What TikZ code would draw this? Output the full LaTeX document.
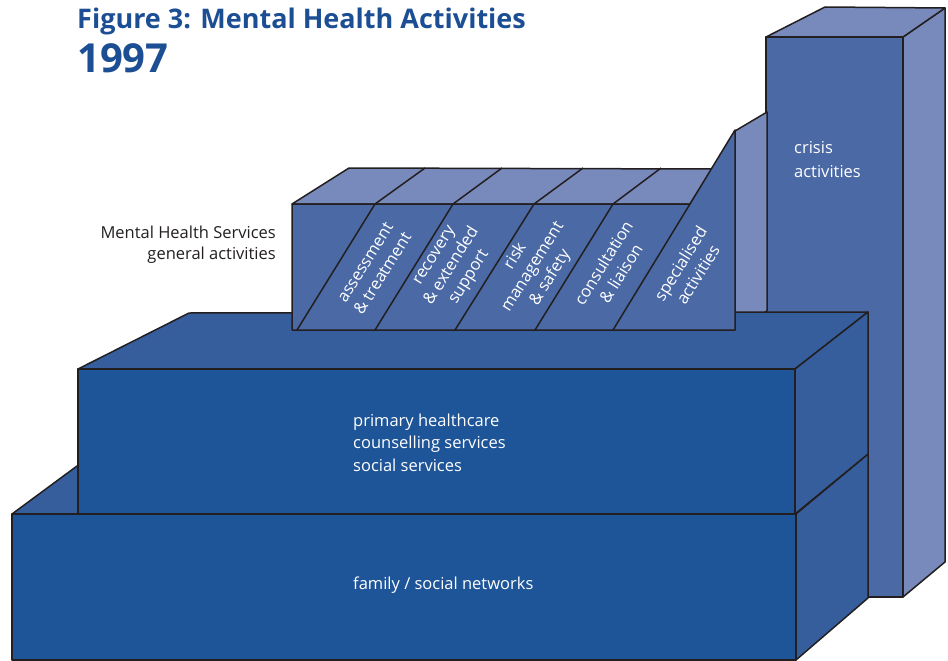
\documentclass[tikz,border=0pt]{standalone}
\usepackage{fontspec}
\setmainfont{Open Sans}
\definecolor{cfront}{RGB}{30,84,152}
\definecolor{cside}{RGB}{54,94,157}
\definecolor{cmid}{RGB}{74,105,165}
\definecolor{clight}{RGB}{120,137,188}
\definecolor{cedge}{RGB}{35,31,32}
\definecolor{ctitle}{RGB}{28,78,148}
\begin{document}
\begin{tikzpicture}[x=1pt,y=-1pt,
  face/.style={draw=cedge,line width=1.5pt,line join=round},
  dark/.style={face,fill=cfront},
  side/.style={face,fill=cside},
  mid/.style={face,fill=cmid},
  light/.style={face,fill=clight},
  divider/.style={draw=cedge,line width=1.5pt},
  wlabel/.style={text=white,inner sep=0pt,font=\fontsize{16.5}{20.5}\selectfont},
  slanted/.style={wlabel,align=center,rotate=58},
  glabel/.style={text=cedge,inner sep=0pt,font=\fontsize{16.5}{20.5}\selectfont},
  titlefont/.style={text=ctitle,inner sep=0pt}]
\useasboundingbox (0,0) rectangle (948,661);
% crisis column
\path[light] (903,37) -- (945,8) -- (945,562) -- (903,597) -- cycle;
\path[light] (766,37) -- (825,7) -- (945,8) -- (903,37) -- cycle;
\path[mid] (766,37) rectangle (903,597);
% specialised side face
\path[light] (735,330) -- (735,131) -- (767,112) -- (767,311) -- cycle;
% bottom block
\path[side] (12,514) -- (77,466) -- (868,454) -- (796,514) -- cycle;
\path[dark] (12,514) rectangle (796,660);
\path[side] (796,514) -- (868,454) -- (868,598) -- (796,660) -- cycle;
% middle block
\path[side] (78,369) -- (189,313) -- (868,312) -- (795,369) -- cycle;
\path[dark] (78,369) rectangle (795,514);
\path[side] (795,369) -- (868,312) -- (868,454) -- (795,514) -- cycle;
% general block
\path[light] (292,204) -- (349,168) -- (712,169) -- (690,204) -- cycle;
\path[mid] (292,330) -- (292,204) -- (690,204) -- (735,130) -- (735,330) -- cycle;
\draw[divider] (297,330) -- (375,204) -- (425,168);
\draw[divider] (375,330) -- (453,204) -- (502,168);
\draw[divider] (455,330) -- (534,204) -- (583,168);
\draw[divider] (535,330) -- (613,204) -- (661,168);
\draw[divider] (613,330) -- (690,204);
% labels
\node[slanted] (l1) at (374,268) {assessment\\\& treatment};
\node[slanted] (l2) at (453,267) {recovery\\\& extended\\support};
\node[slanted] (l3) at (533,267) {risk\\management\\\& safety};
\node[slanted] (l4) at (612,268) {consultation\\\& liaison};
\node[slanted] (l5) at (689,269) {specialised\\activities};
\node[wlabel,anchor=base west] (c1) at (794,153) {crisis};
\node[wlabel,anchor=base west] (c2) at (794,177) {activities};
\node[wlabel,anchor=base west] (p1) at (353,426) {primary healthcare};
\node[wlabel,anchor=base west] (p2) at (353,448) {counselling services};
\node[wlabel,anchor=base west] (p3) at (353,471) {social services};
\node[wlabel,anchor=base west] (f1) at (353,589) {family / social networks};
\node[glabel,anchor=base east] (g1) at (276,238) {Mental Health Services};
\node[glabel,anchor=base east] (g2) at (276,259) {general activities};
\node[titlefont,anchor=base west,font=\bfseries\fontsize{27}{27}\selectfont] (t1) at (77,29) {Figure 3: Mental Health Activities};
\node[titlefont,anchor=base west,font=\bfseries\fontsize{40}{40}\selectfont] (t2) at (77,73) {1997};
\end{tikzpicture}
\end{document}
